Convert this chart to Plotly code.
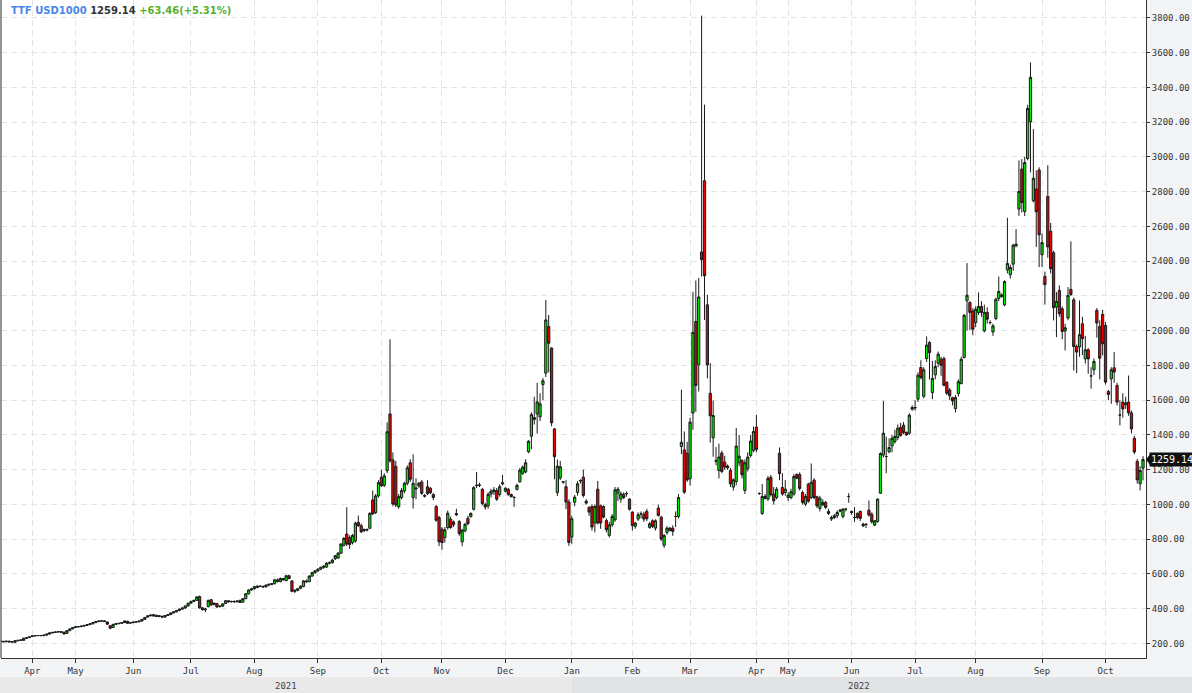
import plotly.graph_objects as go

# daily candles, one row per month (Mar 2021 .. Oct 2022)
open_ = [
    214, 212, 210, 213, 208, 207, 216, 218, 218, 230, 234,
    240, 244, 245, 246, 245, 248, 254, 261, 264, 266, 268, 265, 258, 274, 284,
    292, 296, 297, 300, 304, 309, 313, 320, 326, 329, 330, 324, 302, 292, 310, 314, 316, 320, 328, 317,
    320, 323, 325, 329, 339, 352, 364, 366, 362, 356, 356, 352, 361, 366, 376, 382, 390, 398, 404, 416,
    432, 442, 448, 470, 405, 394, 412, 452, 424, 430, 412, 415, 430, 446, 440, 442, 440, 448, 438, 458, 486, 508,
    515, 522, 530, 528, 526, 536, 540, 544, 566, 556, 574, 562, 590, 560, 500, 506, 518, 528, 560, 556, 588, 608,
    618, 628, 638, 640, 662, 665, 688, 692, 720, 765, 830, 810, 780, 790, 897, 878, 850, 852, 863, 1026, 953, 1049,
    1156, 1110, 1194, 1521, 1256, 1220, 987, 1040, 1078, 1122, 1240, 1040, 1095, 1106, 1130, 1052, 1102, 1093, 1058, 988, 925,
    858, 810, 867, 915, 900, 948, 902, 785, 848, 921, 930, 972, 1108, 1110, 1087, 999, 992, 1060, 1074, 1081, 1058, 1118,
    1076, 1087, 1058, 1041, 1087, 1131, 1179, 1187, 1303, 1393, 1489, 1521, 1504, 1690, 1756, 2024, 1900, 1435, 1068, 1152, 1128, 1102, 1014,
    812, 1013, 1069, 1135, 1157, 1019, 983, 988, 893, 1088, 992, 988, 908, 822, 883, 912, 1065, 1031, 1059, 1063, 1031,
    956, 874, 916, 946, 944, 960, 868, 906, 864, 979, 927, 765, 839, 864, 864, 931, 930, 1333, 1314, 1295,
    1148, 1526, 2053, 1804, 2453, 2863, 2149, 1640, 1383, 1248, 1196, 1296, 1244, 1221, 1196, 1100, 1132, 1240, 1253, 1081, 1205, 1282, 1311,
    1445, 1063, 948, 1046, 1031, 1156, 1060, 1040, 1295, 1098, 1069,
    1040, 1040, 1060, 1172, 1172, 1069, 1002, 1117, 1040, 1140, 1044, 977, 1012, 1012, 960, 916, 925, 935, 967, 931, 973, 1046,
    960, 925, 948, 960, 887, 887, 967, 944, 881, 902, 1065, 1284, 1276, 1303, 1337, 1362, 1385, 1443, 1456, 1414, 1410, 1548,
    1555, 1606, 1788, 1622, 1840, 1932, 1644, 1746, 1813, 1836, 1840, 1702, 1659, 1615, 1552, 1638, 1696, 1846, 2172, 2162, 2114,
    2047, 2105, 2139, 1999, 2105, 2047, 1993, 2070, 2185, 2206, 2149, 2350, 2322, 2383, 2488, 2700, 2930, 2686, 2991, 3202, 2748, 2815, 2925,
    2437, 2313, 2773, 2572, 2449, 2136, 2232, 2126, 1998, 2073, 2238, 2178, 1909, 1906, 2040, 1838, 1890, 1740, 1775, 2117, 2025, 2094,
    2030, 1650, 1723, 1787, 1685, 1514, 1589, 1573, 1589, 1527, 1381, 1248, 1119, 1209,
]
high = [
    218, 216, 215, 216, 212, 220, 221, 223, 233, 236, 240,
    246, 247, 248, 249, 250, 256, 263, 266, 268, 270, 271, 268, 276, 286, 294,
    298, 300, 302, 306, 311, 316, 322, 328, 331, 333, 334, 326, 305, 313, 317, 318, 322, 331, 330, 323,
    326, 328, 331, 341, 352, 362, 370, 370, 366, 362, 361, 363, 369, 378, 384, 392, 400, 407, 418, 434,
    446, 452, 472, 476, 410, 405, 452, 456, 436, 432, 418, 430, 450, 450, 446, 448, 448, 452, 462, 490, 512, 520,
    530, 534, 536, 534, 540, 546, 548, 572, 574, 580, 578, 595, 596, 564, 512, 520, 534, 565, 568, 592, 612, 622,
    632, 642, 650, 668, 672, 688, 710, 725, 778, 812, 984, 822, 830, 900, 936, 890, 862, 862, 955, 1080, 1060, 1140,
    1200, 1180, 1473, 1950, 1300, 1250, 1060, 1095, 1130, 1225, 1260, 1288, 1150, 1130, 1140, 1060, 1140, 1100, 1064, 996, 935,
    870, 870, 965, 930, 908, 975, 910, 860, 895, 935, 955, 1105, 1187, 1125, 1095, 1010, 1070, 1090, 1100, 1095, 1115, 1170,
    1100, 1095, 1062, 1048, 1120, 1210, 1225, 1260, 1370, 1530, 1620, 1700, 1640, 1728, 2177, 2091, 1905, 1440, 1259, 1250, 1135, 1140, 1030,
    935, 1055, 1135, 1145, 1200, 1030, 990, 1000, 1000, 1135, 1000, 995, 920, 900, 945, 1100, 1100, 1075, 1070, 1075, 1035,
    960, 900, 955, 960, 958, 975, 900, 915, 915, 1000, 935, 830, 875, 870, 880, 960, 1060, 1660, 1420, 1360,
    1500, 2224, 2289, 2304, 3813, 3301, 2206, 1813, 1598, 1330, 1350, 1310, 1280, 1230, 1210, 1150, 1440, 1400, 1260, 1260, 1300, 1400, 1448,
    1515, 1070, 1117, 1060, 1165, 1170, 1100, 1100, 1328, 1180, 1140,
    1070, 1090, 1175, 1180, 1185, 1080, 1060, 1125, 1236, 1150, 1050, 1050, 1030, 1020, 975, 935, 945, 965, 975, 980, 980, 1065,
    965, 985, 955, 965, 895, 890, 1023, 955, 910, 1035, 1300, 1596, 1390, 1380, 1400, 1430, 1460, 1470, 1475, 1420, 1525, 1570,
    1600, 1760, 1830, 1790, 1967, 1940, 1826, 1830, 1880, 1850, 1850, 1710, 1670, 1620, 1630, 1720, 1850, 2095, 2389, 2170, 2130,
    2140, 2220, 2170, 2150, 2135, 2060, 2040, 2190, 2312, 2215, 2290, 2650, 2380, 2500, 2584, 2980, 2987, 3000, 3300, 3544, 3160, 2923, 2940,
    2558, 2340, 2952, 2620, 2460, 2222, 2261, 2140, 2040, 2251, 2514, 2190, 1920, 2174, 2080, 1970, 1900, 1790, 1840, 2130, 2060, 2120,
    2050, 1660, 1790, 1877, 1700, 1600, 1640, 1620, 1742, 1540, 1395, 1262, 1220, 1278,
]
low = [
    210, 208, 208, 207, 205, 205, 213, 215, 216, 227, 231,
    238, 242, 243, 243, 243, 246, 252, 258, 261, 263, 262, 252, 256, 272, 282,
    289, 293, 294, 298, 302, 306, 311, 318, 323, 326, 325, 308, 282, 290, 307, 311, 314, 318, 314, 314,
    317, 320, 322, 327, 337, 350, 358, 356, 353, 351, 350, 350, 358, 364, 373, 379, 386, 394, 401, 413,
    428, 438, 445, 400, 390, 380, 408, 418, 420, 405, 408, 410, 428, 436, 436, 436, 437, 434, 436, 455, 482, 504,
    510, 518, 524, 520, 522, 530, 535, 540, 552, 552, 562, 558, 570, 495, 490, 500, 512, 524, 548, 552, 584, 602,
    612, 622, 630, 634, 655, 660, 680, 688, 715, 758, 760, 745, 770, 780, 870, 835, 840, 845, 858, 940, 945, 1040,
    1100, 1100, 1180, 1240, 990, 985, 975, 1030, 1065, 1110, 1130, 976, 1030, 1095, 1055, 1040, 1055, 1060, 1025, 900, 760,
    740, 780, 855, 860, 870, 935, 820, 760, 840, 880, 925, 965, 1095, 1100, 995, 970, 975, 1040, 1055, 1020, 1045, 1110,
    1070, 1050, 1040, 986, 1080, 1125, 1170, 1180, 1295, 1317, 1460, 1408, 1480, 1600, 1733, 1760, 1450, 1145, 1049, 1140, 1120, 973, 762,
    774, 990, 1050, 1120, 1040, 1000, 935, 850, 840, 885, 860, 920, 840, 810, 870, 900, 1020, 1010, 1030, 1045, 965,
    850, 860, 905, 920, 900, 905, 860, 865, 850, 930, 790, 750, 825, 845, 820, 870, 920, 1290, 1060, 1130,
    1109, 1430, 1534, 1650, 2312, 2062, 1726, 1356, 1275, 1225, 1150, 1180, 1200, 1200, 1100, 1080, 1110, 1220, 1150, 1060, 1190, 1270, 1300,
    1300, 1055, 940, 1030, 1020, 1045, 1000, 1030, 1140, 1050, 1050,
    1020, 1030, 1050, 1145, 1080, 1000, 990, 1010, 1030, 1030, 980, 960, 990, 975, 940, 905, 915, 920, 955, 920, 960, 1010,
    940, 900, 915, 905, 870, 865, 930, 890, 875, 895, 1060, 1270, 1180, 1295, 1300, 1350, 1370, 1390, 1405, 1395, 1400, 1540,
    1540, 1590, 1720, 1610, 1820, 1720, 1606, 1720, 1790, 1740, 1680, 1630, 1600, 1570, 1529, 1620, 1690, 1840, 2000, 2003, 1974,
    2020, 2090, 2080, 1990, 2040, 2035, 1970, 2060, 2170, 2190, 2140, 2330, 2300, 2345, 2480, 2661, 2680, 2660, 2980, 2911, 2738, 2482, 2366,
    2366, 2150, 2420, 2330, 2059, 1963, 2080, 1950, 1886, 2060, 2200, 1771, 1756, 1850, 1860, 1810, 1752, 1666, 1745, 1960, 1720, 1858,
    1690, 1600, 1579, 1700, 1570, 1455, 1500, 1550, 1510, 1410, 1290, 1120, 1081, 1139,
]
close = [
    212, 210, 213, 209, 210, 216, 218, 220, 230, 233, 238,
    244, 245, 246, 245, 248, 254, 261, 264, 266, 268, 265, 255, 274, 284, 292,
    296, 297, 300, 304, 309, 313, 320, 326, 329, 330, 327, 311, 288, 310, 314, 316, 320, 330, 316, 320,
    323, 325, 329, 339, 350, 359, 360, 358, 355, 359, 352, 361, 366, 376, 382, 390, 398, 404, 416, 432,
    442, 448, 468, 405, 394, 398, 448, 422, 432, 410, 415, 428, 446, 440, 442, 440, 444, 436, 458, 486, 508, 515,
    527, 530, 528, 526, 536, 540, 544, 566, 556, 574, 566, 590, 574, 500, 506, 515, 530, 560, 556, 588, 608, 618,
    628, 638, 645, 662, 665, 680, 705, 720, 772, 805, 772, 770, 822, 893, 878, 843, 855, 856, 949, 945, 1049, 1126,
    1108, 1165, 1419, 1252, 1003, 997, 1045, 1080, 1122, 1211, 1145, 1122, 1090, 1122, 1064, 1048, 1062, 1068, 1040, 909, 785,
    781, 854, 950, 867, 883, 940, 833, 852, 886, 890, 948, 1097, 1110, 1112, 1005, 986, 1058, 1076, 1083, 1030, 1102, 1125,
    1093, 1058, 1045, 1040, 1110, 1198, 1215, 1240, 1364, 1517, 1500, 1590, 1579, 1712, 2062, 1928, 1470, 1275, 1221, 1217, 1131, 1014, 781,
    918, 1042, 1119, 1138, 1052, 1008, 956, 870, 988, 893, 893, 927, 855, 883, 931, 1084, 1088, 1061, 1040, 1063, 973,
    879, 893, 941, 946, 916, 918, 889, 874, 906, 937, 801, 822, 864, 851, 845, 931, 1040, 1358, 1071, 1142,
    1474, 1990, 1685, 2194, 2409, 2316, 1803, 1510, 1512, 1252, 1273, 1190, 1215, 1211, 1119, 1142, 1336, 1278, 1171, 1240, 1273, 1365, 1420,
    1317, 1063, 1046, 1034, 1150, 1056, 1021, 1088, 1178, 1060, 1088,
    1054, 1073, 1161, 1151, 1092, 1012, 1046, 1019, 1127, 1040, 992, 1036, 998, 983, 948, 925, 935, 954, 962, 973, 973, 1046,
    954, 925, 925, 920, 877, 885, 939, 900, 906, 1031, 1293, 1410, 1276, 1328, 1381, 1391, 1439, 1398, 1414, 1400, 1514, 1558,
    1558, 1744, 1730, 1775, 1917, 1874, 1725, 1794, 1865, 1801, 1686, 1640, 1625, 1596, 1615, 1707, 1836, 2089, 2204, 2105, 2009,
    2124, 2139, 2105, 2105, 2066, 2047, 2028, 2181, 2226, 2197, 2283, 2387, 2364, 2492, 2498, 2801, 2738, 2968, 3279, 3458, 2877, 2684, 2552,
    2507, 2265, 2482, 2357, 2132, 2169, 2098, 1996, 2017, 2203, 2209, 1909, 1877, 1977, 1954, 1890, 1838, 1740, 1823, 2044, 1842, 1925,
    1704, 1633, 1775, 1762, 1589, 1514, 1550, 1585, 1527, 1435, 1302, 1142, 1195.68, 1259.14,
]

# candles per month segment, first one is the partial March 2021
month_sizes = [11, 15, 20, 20, 22, 22, 22, 21, 22, 23, 21, 20, 23, 11, 22, 22, 21, 23, 22, 14]
month_labels = ['Apr', 'May', 'Jun', 'Jul', 'Aug', 'Sep', 'Oct', 'Nov', 'Dec',
                'Jan', 'Feb', 'Mar', 'Apr', 'May', 'Jun', 'Jul', 'Aug', 'Sep', 'Oct']
years = ['2021', '2022']
y_ticks = [200, 400, 600, 800, 1000, 1200, 1400, 1600, 1800, 2000,
           2200, 2400, 2600, 2800, 3000, 3200, 3400, 3600, 3800]

MONO = 'DejaVu Sans Mono'
GRID = '#e4e4e4'
AXIS = '#333333'

session = list(range(len(close)))
month_starts = []
pos = 0
for size in month_sizes[:-1]:
    pos += size
    month_starts.append(pos)
year_split = month_starts[month_labels.index('Jan')]

x_range = [0.15, 397.04]
y_range = [116.5, 3903]
to_paper = lambda v: (v - x_range[0]) / (x_range[1] - x_range[0])

last, prev = close[-1], close[-2]
change = last - prev
pct = 100 * change / prev

fig = go.Figure(go.Candlestick(
    x=session, open=open_, high=high, low=low, close=close,
    increasing=dict(fillcolor='#00ee00', line=dict(color='#1a1a1a', width=1)),
    decreasing=dict(fillcolor='#ee0000', line=dict(color='#1a1a1a', width=1)),
    whiskerwidth=0, showlegend=False, hoverinfo='skip'))

fig.update_layout(
    width=1192, height=693,
    margin=dict(l=1, r=46, t=0, b=35),
    paper_bgcolor='#f3f4f6', plot_bgcolor='white',
    boxgap=0.12, boxgroupgap=0.12,
    showlegend=False,
    font=dict(family=MONO, size=9, color=AXIS),
)

fig.update_xaxes(
    range=x_range, rangeslider_visible=False,
    tickmode='array', tickvals=month_starts, ticktext=month_labels,
    ticks='outside', ticklen=4, tickcolor=AXIS,
    showline=True, linecolor=AXIS, linewidth=1,
    showgrid=True, gridcolor=GRID, griddash='6px,4px', zeroline=False,
    tickfont=dict(family=MONO, size=9, color=AXIS),
)
fig.update_yaxes(
    side='right', range=y_range,
    tickmode='array', tickvals=y_ticks, tickformat='.2f',
    ticks='outside', ticklen=3, tickcolor=AXIS,
    showline=True, linecolor=AXIS, linewidth=1,
    showgrid=True, gridcolor=GRID, griddash='6px,4px', zeroline=False,
    tickfont=dict(family=MONO, size=9, color=AXIS),
)

# year band under the month labels
band_top, band_bottom = -19 / 658, -36 / 658
split = to_paper(year_split)
fig.add_shape(type='rect', xref='paper', yref='paper', x0=-0.01, x1=split,
              y0=band_bottom, y1=band_top, fillcolor='#e9e9e9', line_width=0, layer='below')
fig.add_shape(type='rect', xref='paper', yref='paper', x0=split, x1=1.05,
              y0=band_bottom, y1=band_top, fillcolor='#e2e3e5', line_width=0, layer='below')
for label, cx in zip(years, [split / 2, (split + 1) / 2]):
    fig.add_annotation(text=label, xref='paper', yref='paper', x=cx, y=(band_top + band_bottom) / 2,
                       showarrow=False, xanchor='center', yanchor='middle',
                       font=dict(family=MONO, size=9, color='#444444'))

# left border
fig.add_shape(type='line', xref='paper', yref='paper', x0=0, x1=0, y0=0, y1=1,
              line=dict(color=AXIS, width=1))

# last price marker on the price axis
fig.add_shape(type='path', xref='paper', yref='y',
              path=f'M 1.0,{last} L 1.0035,{last + 30} L 1.0035,{last - 30} Z',
              fillcolor='#111111', line_width=0)
fig.add_annotation(text=f'{last:.2f}', xref='paper', yref='y', x=1.0, y=last,
                   xanchor='left', yanchor='middle', xshift=3, showarrow=False,
                   bgcolor='#111111', borderpad=1,
                   font=dict(family=MONO, size=10, color='white'))

title = (f"<b><span style='color:#4a86e8'>TTF USD1000</span> "
         f"<span style='color:#333333'>{last:.2f}</span> "
         f"<span style='color:#5aaf2c'>{change:+.2f}({pct:+.2f}%)</span></b>")
fig.add_annotation(text=title, xref='paper', yref='paper', x=0, y=1, xanchor='left', yanchor='top',
                   xshift=8, yshift=-3, showarrow=False,
                   font=dict(family='DejaVu Sans', size=10))

fig.write_html('out.html', config={'displayModeBar': False},
               post_script="document.body.style.margin='0';document.body.style.overflow='hidden';")
